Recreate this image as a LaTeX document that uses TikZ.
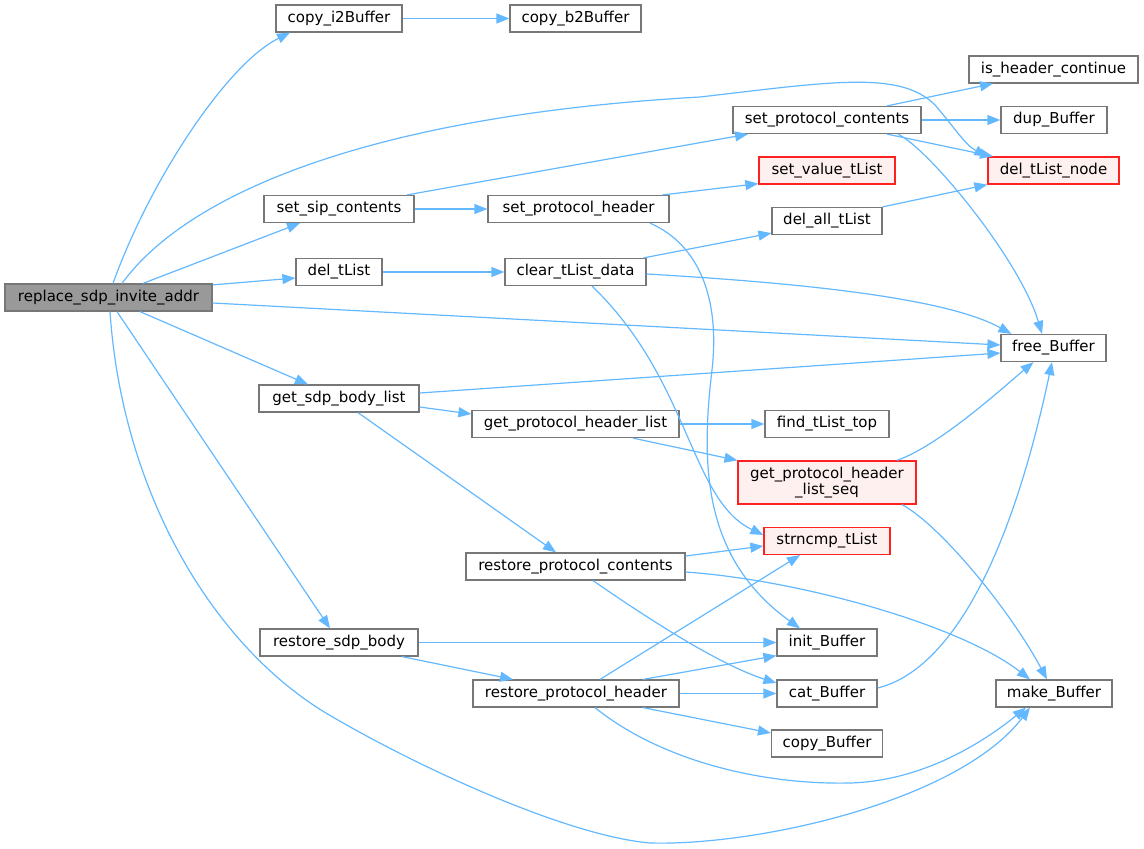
\documentclass[tikz,border=0pt]{standalone}
\usepackage{fontspec}
\setmainfont{DejaVu Sans}
\usetikzlibrary{arrows.meta}

\definecolor{edgeblue}{HTML}{63B8FF}
\definecolor{boxgray}{HTML}{777777}
\definecolor{maingray}{HTML}{999999}
\definecolor{nodered}{HTML}{FF2020}
\definecolor{nodepink}{HTML}{FFF0F0}

\tikzset{
	fn/.style={draw=boxgray, fill=white, line width=1.2pt, inner sep=0pt, minimum height=27pt, font=\fontsize{15}{16.5}\selectfont},
	fnmain/.style={fn, fill=maingray},
	fnred/.style={fn, draw=nodered, fill=nodepink},
	call/.style={edgeblue, line width=1.2pt, -{Triangle[length=13pt,width=10pt]}}
}

\begin{document}
\begin{tikzpicture}[x=1pt,y=-1pt]
	\useasboundingbox (0,0) rectangle (1144,849);

	% caller
	\node[fnmain, minimum width=207pt] (rsia) at (108.5,297.5) {replace\_sdp\_invite\_addr};

	% second column
	\node[fn, minimum width=126pt] (ci2b) at (339,18.5) {copy\_i2Buffer};
	\node[fn, minimum width=150pt] (ssc) at (339,209) {set\_sip\_contents};
	\node[fn, minimum width=86pt] (dtl) at (339,272) {del\_tList};
	\node[fn, minimum width=160pt] (gsbl) at (339,398.5) {get\_sdp\_body\_list};
	\node[fn, minimum width=158pt] (rsb) at (339,642.5) {restore\_sdp\_body};

	% third column
	\node[fn, minimum width=131pt] (cb2b) at (575.5,18.5) {copy\_b2Buffer};
	\node[fn, minimum width=181pt] (sph) at (578.5,209) {set\_protocol\_header};
	\node[fn, minimum width=141pt] (ctld) at (575.5,272) {clear\_tList\_data};
	\node[fn, minimum width=207pt] (gphl) at (575.5,424) {get\_protocol\_header\_list};
	\node[fn, minimum width=219pt] (rpc) at (575.5,566.5) {restore\_protocol\_contents};
	\node[fn, minimum width=206pt] (rph) at (576,693.5) {restore\_protocol\_header};

	% fourth column
	\node[fn, minimum width=188pt] (spc) at (827,120) {set\_protocol\_contents};
	\node[fnred, minimum width=136pt] (svtl) at (827,170.5) {set\_value\_tList};
	\node[fn, minimum width=110pt] (datl) at (827,221) {del\_all\_tList};
	\node[fn, minimum width=124pt] (ftt) at (827,424) {find\_tList\_top};
	\node[fnred, minimum width=178pt, minimum height=43pt, align=center] (gphls) at (827,482.5) {get\_protocol\_header\\\_list\_seq};
	\node[fnred, minimum width=126pt] (stl) at (827,541) {strncmp\_tList};
	\node[fn, minimum width=100pt] (initb) at (827,642.5) {init\_Buffer};
	\node[fn, minimum width=100pt] (catb) at (827,693.5) {cat\_Buffer};
	\node[fn, minimum width=111pt] (copyb) at (827,743.5) {copy\_Buffer};

	% fifth column
	\node[fn, minimum width=169pt] (ihc) at (1053.5,69.5) {is\_header\_continue};
	\node[fn, minimum width=106pt] (dupb) at (1054,120) {dup\_Buffer};
	\node[fnred, minimum width=131pt] (dtln) at (1053.5,170.5) {del\_tList\_node};
	\node[fn, minimum width=105pt] (freeb) at (1053.5,348) {free\_Buffer};
	\node[fn, minimum width=116pt] (makeb) at (1054,693.5) {make\_Buffer};

	% calls of replace_sdp_invite_addr
	\draw[call] ([xshift=4.5pt]rsia.north) .. controls (148,185) and (225,65) .. ([xshift=-49pt]ci2b.south);
	\draw[call] ([xshift=13.5pt]rsia.north) .. controls (190,190) and (380,115) .. (700,97) .. controls (830,82) and (900,70) .. (935,105) .. controls (955,128) and (965,145) .. (dtln.north west);
	\draw[call] ([xshift=34.5pt]rsia.north) -- ([xshift=-39pt]ssc.south);
	\draw[call] ([yshift=-1.5pt]rsia.north east) -- ([yshift=-6pt]dtl.west);
	\draw[call] ([yshift=-5.5pt]rsia.east) -- ([yshift=3pt]freeb.west);
	\draw[call] ([xshift=31.5pt]rsia.south) -- ([xshift=-31pt]gsbl.north);
	\draw[call] ([xshift=8.5pt]rsia.south) -- ([xshift=-9pt]rsb.north);
	\draw[call] ([xshift=1.5pt]rsia.south) .. controls (122,490) and (210,640) .. (321,710) .. controls (400,758) and (560,835) .. (650,843) .. controls (760,846) and (960,800) .. ([xshift=-24pt]makeb.south);

	\draw[call] (ci2b.east) -- (cb2b.west);

	\draw[call] ([xshift=68pt]ssc.north) -- ([xshift=-79pt]spc.south);
	\draw[call] (ssc.east) -- (sph.west);

	\draw[call] ([xshift=60pt]spc.north) -- ([xshift=-60.5pt]ihc.south);
	\draw[call] (spc.east) -- (dupb.west);
	\draw[call] ([xshift=60pt]spc.south) -- ([xshift=-60.5pt]dtln.north);
	\draw[call] ([xshift=71pt]spc.south) .. controls (930,150) and (1020,260) .. ([xshift=-11.5pt]freeb.north);

	\draw[call] ([xshift=-7pt]sph.north east) -- ([yshift=1pt]svtl.south west);
	\draw[call] ([xshift=71.5pt]sph.south) .. controls (700,245) and (720,300) .. (712,370) .. controls (700,470) and (705,560) .. ([xshift=-27pt]initb.north);

	\draw[call] (dtl.east) -- (ctld.west);
	\draw[call] ([xshift=-3pt]ctld.north east) -- ([yshift=2pt]datl.south west);
	\draw[call] ([yshift=-2pt]ctld.east) .. controls (820,284) and (950,300) .. ([xshift=11pt]freeb.north west);
	\draw[call] ([xshift=16.5pt]ctld.south) .. controls (690,380) and (690,500) .. ([yshift=6pt]stl.west);
	\draw[call] (datl.north east) -- (dtln.south west);

	\draw[call] ([yshift=5.5pt]gsbl.east) -- ([yshift=-5pt]freeb.west);
	\draw[call] ([yshift=-8.5pt]gsbl.east) -- ([yshift=10pt]gphl.west);
	\draw[call] ([xshift=19pt]gsbl.south) -- ([xshift=-19.5pt]rpc.north);

	\draw[call] (gphl.east) -- (ftt.west);
	\draw[call] ([xshift=57.5pt]gphl.south) -- (gphls.north west);
	\draw[call] ([xshift=70pt]gphls.north) .. controls (940,445) and (1000,390) .. ([xshift=-20pt]freeb.south);
	\draw[call] ([xshift=75pt]gphls.south) .. controls (940,525) and (1010,610) .. ([xshift=-7pt]makeb.north);

	\draw[call] ([yshift=10.5pt]rpc.east) -- ([yshift=-5pt]stl.west);
	\draw[call] ([yshift=-5.5pt]rpc.east) .. controls (800,580) and (960,625) .. ([xshift=-24pt]makeb.north);
	\draw[call] ([xshift=17.5pt]rpc.south) .. controls (650,620) and (720,665) .. ([yshift=10.5pt]catb.west);

	\draw[call] (rsb.east) -- (initb.west);
	\draw[call] ([xshift=63pt]rsb.south) -- ([xshift=-63pt]rph.north);

	\draw[call] ([xshift=24pt]rph.north) -- ([xshift=-27pt]stl.south);
	\draw[call] ([xshift=67pt]rph.north) -- ([yshift=1pt]initb.south west);
	\draw[call] (rph.east) -- (catb.west);
	\draw[call] ([xshift=67pt]rph.south) -- ([yshift=10.5pt]copyb.west);
	\draw[call] ([xshift=19pt]rph.south) .. controls (660,760) and (760,785) .. (850,783) .. controls (920,781) and (980,745) .. ([xshift=-28pt]makeb.south);

	\draw[call] ([yshift=5.5pt]catb.east) .. controls (950,670) and (1010,560) .. ([xshift=-1.5pt]freeb.south);
\end{tikzpicture}
\end{document}
